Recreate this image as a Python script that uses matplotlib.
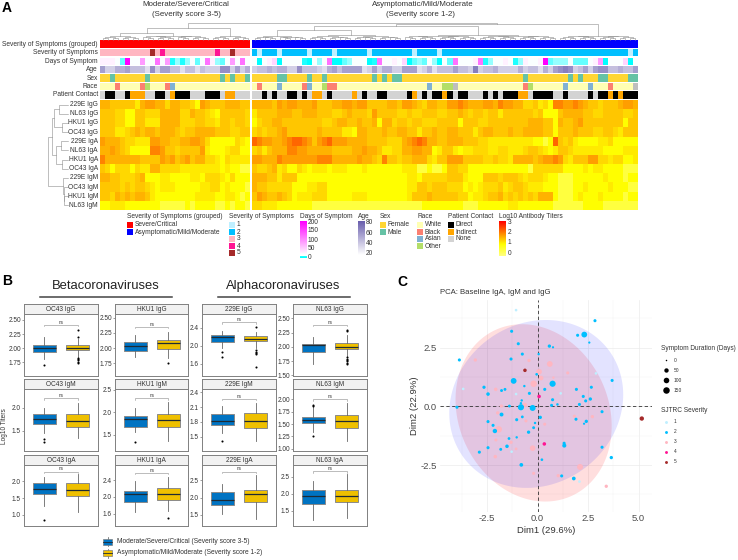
import math
import numpy as np
import matplotlib
matplotlib.use('Agg')
import matplotlib.pyplot as plt
from matplotlib.colors import LinearSegmentedColormap, Normalize
from matplotlib.patches import Rectangle, Polygon

plt.rcParams['font.family'] = ['Liberation Sans', 'DejaVu Sans']
W, H = 738, 560
TXT = '#333333'

# ---------- heatmap data: titer level per patient (codes into heat_levels) ----------
heat_levels = [1.75, 2.0, 2.08, 2.15, 2.22, 2.3, 2.38, 2.48, 2.6, 2.72]
heat_229E_IgG = "55444 44256 65535 54431 65444 55544" "55554 65665 55644 45566 56644 44554 66543 5544" "66765 55665 76655 33423 17766 76544 34445 665"
heat_NL63_IgG = "44433 11443 33555 53354 43214 44443" "24444 55544 55544 43345 44436 44443 34334 4433" "44543 44344 24444 44341 11455 55443 34444 334"
heat_HKU1_IgG = "44433 11442 22555 53334 43324 43443" "13445 54444 44443 34554 45445 15534 43443 3344" "44144 43344 44444 45554 41544 56444 44444 144"
heat_OC43_IgG = "44422 34545 54555 43445 55544 43344" "34344 56444 44454 44422 15544 45445 54424 4544" "55444 24554 44544 55554 41444 54443 34432 444"
heat_229E_IgA = "65554 33222 66554 45566 53111 11321" "87665 56788 76467 86665 55544 44333 56787 5544" "55544 43322 22222 22110 18434 21111 22311 111"
heat_NL63_IgA = "55654 31111 77644 34444 62111 23311" "34245 55776 65555 54444 55655 42233 55665 5124" "42122 33322 33222 34432 12443 22222 21111 222"
heat_HKU1_IgA = "75555 55544 44656 45645 53321 32222" "66555 76666 66677 75555 56554 37443 44555 3244" "66644 44334 33255 55456 67632 44466 33233 112"
heat_OC43_IgA = "43133 31322 55333 32222 22221 21100" "43345 23113 21222 12221 11211 11111 22200 1001" "44331 11111 11111 10333 33311 11212 21111 000"
heat_229E_IgM = "55443 33451 11221 11122 13332 13111" "55544 24441 11111 11111 11111 11111 12213 3333" "44421 11444 34443 23332 11000 11111 12111 011"
heat_OC43_IgM = "44443 43443 21222 11111 22331 21110" "54433 33311 12233 11111 11111 11111 12244 3444" "33312 12333 42344 32221 11000 11211 11211 100"
heat_HKU1_IgM = "44354 54554 21111 11112 22211 22101" "46544 54312 22333 11111 22211 11111 12444 5444" "44331 22344 53434 34355 51000 12111 21111 011"
heat_NL63_IgM = "11222 11111 11000 00101 11100 10110" "33222 11111 11000 00000 00000 00000 00001 1111" "11100 01111 11221 11111 10000 00111 10000 000"
heat_rows = [heat_229E_IgG, heat_NL63_IgG, heat_HKU1_IgG, heat_OC43_IgG,
             heat_229E_IgA, heat_NL63_IgA, heat_HKU1_IgA, heat_OC43_IgA,
             heat_229E_IgM, heat_OC43_IgM, heat_HKU1_IgM, heat_NL63_IgM]
heat_labels = ['229E IgG', 'NL63 IgG', 'HKU1 IgG', 'OC43 IgG', '229E IgA', 'NL63 IgA',
               'HKU1 IgA', 'OC43 IgA', '229E IgM', 'OC43 IgM', 'HKU1 IgM', 'NL63 IgM']

anno_group = "1" * 30 + "2" * 77
anno_sev = "33333 33333 53433 33333 33343 35333" "21222 12222 21222 21222 22212 22222 22122 2212" "22222 22222 22222 22222 22222 22222 22222 212"
day_levels = [0, 3, 8, 12, 20, 30, 50, 90, 120, 200]
anno_days = "55542 94474 48471 31342 48532 47484" "40456 04444 10434 80023 44401 84454 60232 4304" "28444 58134 45413 54459 23334 22245 70444 604"
age_levels = [20, 26, 32, 38, 44, 50, 56, 62, 68, 74]
anno_age = "63355 64442 73664 42442 43337 73635" "34454 55337 44432 56466 66236 35533 66623 5244" "46443 83445 33335 34425 36787 34636 77445 446"
anno_sex = "FFMFF FFFFM FFFFF FFFFF FFFFM FMFFM" "FFFFF MMFFF FMFFM FFFFF FFFFM FMFMM FFFFF FFFF" "FFFFF FFFFF FFFFF MFFFF FFFFM FMFFF MMFFF FMM"
anno_race = "WWWBW WWWBO WWWBA WWWWW WWWWW WWWWW" "WBWWW AWWWW BAWWO BBWWW WWWWW WWWWW WWWWW AWWO" "OGWWW WWWWW WWWWW BOWWW WWWAW WWWAW WWBWW WWG"
anno_contact = "NDDNN DIIIN NDDNI DDDNN NDDDN IINNN" "NNDND NNDDN DNIIN DNNNN INDNN DDNNN NDIND NDDI" "DNDDN NNDND NDDDI INDDD DNNDN NNNDN DDIDI DDD"

# ---------- dendrogram structure: (merge height in px, child, child); an int is a cluster of that many patients ----------
col_tree = (17, (12, (6.5, 8, 14), 8), (16, (14, (10, 11, 19), 31), 16))
row_tree = (20, (16, (14, (9, 1, 1), (6, 1, 1)), (12, (7, 1, 1), (6, 1, 1))),
            (5, 1, (4.5, 1, (4, 1, 1))))

# ---------- panel B: (whisker low, q1, median, q3, whisker high, outliers) for the two groups ----------
box_OC43_IgG = [(1.81, 1.94, 2.01, 2.06, 2.195, [1.71]), (1.85, 1.965, 2.01, 2.05, 2.17, [2.325, 2.2, 1.83, 1.81, 1.79, 1.76, 1.74])]
box_HKU1_IgG = [(1.85, 1.96, 2.04, 2.10, 2.21, []), (1.84, 1.99, 2.077, 2.13, 2.27, [1.76])]
box_OC43_IgM = [(1.45, 1.643, 1.757, 1.857, 2.0, [1.33, 1.27]), (1.34, 1.58, 1.72, 1.857, 2.11, [])]
box_HKU1_IgM = [(1.55, 1.68, 1.85, 1.918, 2.1, [1.336]), (1.36, 1.67, 1.82, 1.955, 2.24, [])]
box_OC43_IgA = [(1.28, 1.614, 1.77, 1.94, 2.12, [0.86]), (1.1, 1.574, 1.75, 1.94, 2.22, [])]
box_HKU1_IgA = [(1.648, 1.88, 2.064, 2.152, 2.39, []), (1.672, 1.928, 2.072, 2.216, 2.49, [1.496])]
box_229E_IgG = [(1.94, 2.09, 2.185, 2.23, 2.32, [1.867, 1.756]), (1.94, 2.096, 2.14, 2.22, 2.31, [2.42, 1.90, 1.867, 1.83, 1.81, 1.533])]
box_229E_IgM = [(1.567, 1.746, 1.827, 1.97, 2.12, [1.41]), (1.42, 1.685, 1.827, 1.99, 2.18, [])]
box_229E_IgA = [(1.52, 1.79, 1.94, 2.17, 2.39, []), (1.37, 1.865, 2.096, 2.23, 2.65, [])]
box_NL63_IgG = [(1.70, 1.912, 2.03, 2.047, 2.164, []), (1.84, 1.97, 2.006, 2.064, 2.2, [2.3, 2.275, 1.82, 1.795, 1.77, 1.75, 1.725, 1.695])]
box_NL63_IgM = [(1.33, 1.514, 1.58, 1.64, 1.84, [1.895, 1.865, 1.26]), (1.15, 1.42, 1.56, 1.69, 1.92, [])]
box_NL63_IgA = [(1.235, 1.716, 1.94, 2.118, 2.39, []), (1.304, 1.755, 1.95, 2.127, 2.58, [])]

facet_titles = ['OC43 IgG', 'HKU1 IgG', '229E IgG', 'NL63 IgG', 'OC43 IgM', 'HKU1 IgM', '229E IgM', 'NL63 IgM',
                'OC43 IgA', 'HKU1 IgA', '229E IgA', 'NL63 IgA']
facet_boxes = [box_OC43_IgG, box_HKU1_IgG, box_229E_IgG, box_NL63_IgG, box_OC43_IgM, box_HKU1_IgM, box_229E_IgM, box_NL63_IgM,
               box_OC43_IgA, box_HKU1_IgA, box_229E_IgA, box_NL63_IgA]
facet_ylim = [(1.514, 2.606), (1.547, 2.56), (1.333, 2.704), (1.494, 2.576),
              (1.07, 2.4), (1.134, 2.52), (1.209, 2.468), (0.953, 2.21),
              (0.663, 2.485), (1.296, 2.768), (1.173, 2.94), (1.049, 2.853)]
facet_ticks = [['1.75', '2.00', '2.25', '2.50'], ['1.75', '2.00', '2.25', '2.50'], ['1.6', '2.0', '2.4'], ['1.50', '1.75', '2.00', '2.25', '2.50'],
               ['1.5', '2.0'], ['1.5', '2.0', '2.5'], ['1.5', '1.8', '2.1', '2.4'], ['1.00', '1.25', '1.50', '1.75', '2.00'],
               ['1.0', '1.5', '2.0'], ['1.6', '2.0', '2.4'], ['1.5', '2.0', '2.5'], ['1.5', '2.0', '2.5']]
facet_ns = [2.41, 2.345, 2.52, 2.386, 2.2, 2.31, 2.265, 2.0, 2.29, 2.57, 2.75, 2.667]

# ---------- panel C: PCA scores ----------
sev2_x = [2.84, 1.98, 2.31, 2.56, -1.29, -.96, .58, .76, -.76, .05, -1.32, -3.88, -.05, -1.19, .74, 3.69, -.66, -2.66, -1.62, -1.79, .35, -2.46, 1.92, 2.66, -.41, 2.26, 2.61, 2.38, .74, -.79, -.83, 2.07, .69, .98, -.83, -1.40, -.25, -4.0, 3.19, -1.79, -.76, .13, 1.90, -1.04, -2.46, 2.41, 2.3, -.13, -2.21, -.2, -.45, -2.12, -1.04, -1.42, -1.52, 1.31, 1.32, -2.46, -1.83, 3.19, -2.89, 3.65, .21, -.81, 1.19, 1.79]
sev2_y = [3.64, 3.02, 3.05, 2.71, 3.19, 2.66, 2.56, 2.51, 2.22, 2.22, 2.01, 1.97, 1.36, 1.08, .96, 1.10, .86, .81, .72, .67, .72, .52, .72, .81, .55, .42, .31, .23, .28, .25, .13, .08, .04, .08, -.04, .01, -.07, -.04, -.23, -.35, -.45, -.47, -.55, -.57, -.65, -.64, -.74, -.71, -.81, -.91, -1.10, -1.05, -1.32, -1.37, -1.70, -1.57, -1.67, -1.76, -1.83, -1.74, -1.95, -2.18, -2.27, -2.49, -2.96, -3.07]
sev2_d = [15, 15, 110, 3, 15, 15, 20, 3, 15, 5, 15, 15, 8, 110, 130, 15, 5, 18, 12, 12, 15, 25, 15, 15, 15, 15, 20, 15, 15, 5, 5, 15, 15, 6, 130, 12, 120, 15, 15, 35, 10, 20, 15, 15, 15, 20, 3, 5, 15, 12, 20, 50, 5, 10, 25, 15, 40, 15, 12, 15, 15, 20, 8, 30, 15, 30]
sev1_x = [-1.07, -3.69, -1.07, 1.14, 2.89, 2.07, -1.29]
sev1_y = [4.09, .74, .52, .55, 1.40, -3.2, -1.93]
sev1_d = [8, 8, 8, 8, 8, 8, 8]
sev3_x = [-3.09, -.43, .60, .07, .17, 1.49, .78, -.2, -2.08, -.63, -1.80, -1.98, 1.82, 2.71, -.58, .35, -1.93, -2.07, -1.32, -1.07, -.25, -2.1, 2.1, -.2, 1.02, 3.40]
sev3_y = [1.97, 1.95, 1.80, 1.47, 1.20, 1.42, 1.22, .96, .72, .06, .01, -.28, -.42, -.44, -.62, -.76, -.98, -1.43, -1.53, -1.81, -1.78, -2.14, -2.58, -2.85, -2.95, -3.40]
sev3_d = [20, 20, 110, 100, 60, 15, 5, 150, 25, 50, 20, 20, 15, 20, 15, 15, 150, 15, 20, 10, 100, 25, 120, 15, 20, 20]
sev4_x = [.07, .33]
sev4_y = [.42, -1.60]
sev4_d = [25, 25]
sev5_x = [-.63, 5.16]
sev5_y = [1.53, -.52]
sev5_d = [25, 50]
ell_blue = (-.07, .10, 4.31, 3.57, .11)
ell_red = (-.20, -.28, 3.87, 3.77, -.15)

sev_colors = {'1': '#BFEFFF', '2': '#00BFFF', '3': '#FFB6C1', '4': '#FF1493', '5': '#A52A2A'}
sex_colors = {'F': '#FFD633', 'M': '#66C2A5'}
race_colors = {'W': '#FFFFB3', 'B': '#FB8072', 'A': '#80B1D3', 'O': '#B3DE69', 'G': '#BEBEBE'}
contact_colors = {'D': '#000000', 'I': '#FFA500', 'N': '#D3D3D3'}

fig = plt.figure(figsize=(W / 100, H / 100), dpi=100, facecolor='white')


def px_ax(x0, y0, x1, y1, **kw):
    return fig.add_axes([x0 / W, 1 - y1 / H, (x1 - x0) / W, (y1 - y0) / H], **kw)


ov = px_ax(0, 0, W, H, zorder=10)
ov.set_xlim(0, W)
ov.set_ylim(H, 0)
ov.axis('off')
ov.patch.set_alpha(0)


def T(x, y, s, size=4.7, ha='left', va='center', **kw):
    kw.setdefault('color', TXT)
    ov.text(x, y, s, fontsize=size, ha=ha, va=va, **kw)


def clean(s):
    return s.replace(' ', '')


# ---------- panel A ----------
heat_cmap = LinearSegmentedColormap.from_list('heat', [(0, '#FFFFFF'), (.5, '#FFFF00'), (1, '#FF0000')])
heat = np.array([[heat_levels[int(c)] for c in clean(r)] for r in heat_rows])
assert heat.shape == (12, 107), heat.shape
BL = (100, 250, 0, 30)
BR = (252, 638, 30, 107)
HM_T, HM_B = 100, 210
for x0, x1, i0, i1 in (BL, BR):
    a = px_ax(x0, HM_T, x1, HM_B)
    a.imshow(heat[:, i0:i1], cmap=heat_cmap, norm=Normalize(1, 3), aspect='auto', interpolation='nearest')
    a.axis('off')

anno_y = [(40, 48), (49, 56.5), (57.5, 65.3), (65.8, 73.5), (74, 82), (82.5, 90.5), (91, 99)]
anno_names = ['Severity of Symptoms (grouped)', 'Severity of Symptoms', 'Days of Symptom', 'Age', 'Sex', 'Race', 'Patient Contact']
day_cmap = LinearSegmentedColormap.from_list('days', [(0, '#00FFFF'), (.1, '#FFFFFF'), (1, '#FF00FF')])
age_cmap = LinearSegmentedColormap.from_list('age', ['#FFFFFF', '#6A5FAE'])
group_colors = {'1': '#FF0000', '2': '#0000FF'}
anno_tracks = [
    (anno_group, lambda c: group_colors[c]),
    (anno_sev, lambda c: sev_colors[c]),
    (anno_days, lambda c: day_cmap(day_levels[int(c)] / 200)),
    (anno_age, lambda c: age_cmap((age_levels[int(c)] - 20) / 60)),
    (anno_sex, lambda c: sex_colors[c]),
    (anno_race, lambda c: race_colors[c]),
    (anno_contact, lambda c: contact_colors[c]),
]
for (yt, yb), name, (codes, col) in zip(anno_y, anno_names, anno_tracks):
    codes = clean(codes)
    assert len(codes) == 107, (name, len(codes))
    colors = np.array([matplotlib.colors.to_rgb(col(c)) for c in codes])[None, :, :]
    for x0, x1, i0, i1 in (BL, BR):
        a = px_ax(x0, yt, x1, yb)
        a.imshow(colors[:, i0:i1], aspect='auto', interpolation='nearest')
        a.axis('off')
    T(98, (yt + yb) / 2, name, size=4.75, ha='right')

row_h = (HM_B - HM_T) / 12
for i, lab in enumerate(heat_labels):
    T(98, HM_T + row_h * (i + .5), lab, size=4.75, ha='right')


def draw_tree(node, leaf_pos, to_xy, counter):
    if isinstance(node, int):
        if node == 1:
            p = leaf_pos(counter[0])
            counter[0] += 1
            return p, 0.0
        a, b = node // 2, node - node // 2
        node = (0.8 * math.log2(node) + 0.8, a, b)
    h, a, b = node
    pa, ha = draw_tree(a, leaf_pos, to_xy, counter)
    pb, hb = draw_tree(b, leaf_pos, to_xy, counter)
    xs, ys = zip(*[to_xy(pa, ha), to_xy(pa, h), to_xy(pb, h), to_xy(pb, hb)])
    ov.plot(xs, ys, color='#8C8C8C', lw=0.4, solid_joinstyle='miter')
    return (pa + pb) / 2, h


draw_tree(col_tree, lambda i: 100 + 5 * (i + .5) if i < 30 else 252 + 386 / 77 * (i - 30 + .5),
          lambda p, h: (p, 39.5 - h), [0])
draw_tree(row_tree, lambda i: HM_T + row_h * (i + .5), lambda p, h: (68 - h, p), [0])

T(186, 4.5, 'Moderate/Severe/Critical', size=5.7, ha='center')
T(187, 15, '(Severity score 3-5)', size=5.7, ha='center')
T(423, 4.5, 'Asymptomatic/Mild/Moderate', size=5.7, ha='center')
T(421, 15, '(Severity score 1-2)', size=5.7, ha='center')
T(2, 8, 'A', size=10, fontweight='bold', color='black')
T(2, 281, 'B', size=10, fontweight='bold', color='black')
T(397, 282, 'C', size=10, fontweight='bold', color='black')


def legend_block(x, title, colors, labels, rw=6.3):
    T(x, 216, title, size=4.75)
    y = 221.7
    for c, l in zip(colors, labels):
        ov.add_patch(Rectangle((x, y), rw, 6.7, fc=c, ec='none'))
        T(x + rw + 1.4, y + 3.3, l, size=4.75)
        y += 7


legend_block(127, 'Severity of Symptoms (grouped)', ['#FF0000', '#0000FF'], ['Severe/Critical', 'Asymptomatic/Mild/Moderate'])
legend_block(228.7, 'Severity of Symptoms', [sev_colors[k] for k in '12345'], list('12345'))
legend_block(380, 'Sex', [sex_colors['F'], sex_colors['M']], ['Female', 'Male'])
legend_block(417, 'Race', [race_colors[k] for k in 'WBAO'], ['White', 'Black', 'Asian', 'Other'])
legend_block(448, 'Patient Contact', ['#000000', '#FFA500', '#D3D3D3'], ['Direct', 'Indirect', 'None'])


def colorbar(x0, y0, x1, y1, cmap, lo=0.0, hi=1.0):
    a = px_ax(x0, y0, x1, y1, zorder=11)
    a.imshow(np.linspace(hi, lo, 64)[:, None], cmap=cmap, vmin=0, vmax=1, aspect='auto')
    a.axis('off')


T(300, 216, 'Days of Symptom', size=4.75)
colorbar(300, 221, 306.3, 255, day_cmap, .1, 1)
colorbar(300, 255.5, 306.3, 258.5, day_cmap, 0, .03)
for lab, y in zip(['200', '150', '100', '50', '0'], [222, 231, 240, 249, 257.5]):
    T(308, y, lab, size=4.75)
T(358, 216, 'Age', size=4.75)
colorbar(358, 221, 364.5, 255, age_cmap)
for lab, y in zip(['80', '60', '40', '20'], [222.7, 233.3, 243.3, 253.3]):
    T(366, y, lab, size=4.75)
T(499.3, 216, 'Log10 Antibody Titers', size=4.75)
colorbar(499.3, 221, 506, 256, heat_cmap, .25, 1)
for lab, y in zip(['3', '2', '1', '0'], [222.7, 233, 243, 253.7]):
    T(507.5, y, lab, size=4.75)

# ---------- panel B ----------
col_x = [(24.3, 97.7), (115.3, 188.3), (202.3, 275.7), (293.3, 366.7)]
row_y = [(303.7, 314, 375.7), (379.3, 389, 451), (455, 465, 526.3)]
BLUE, YEL = '#0073C2', '#EFC000'
for k, title in enumerate(facet_titles):
    r, c = k // 4, k % 4
    x0, x1 = col_x[c]
    st, pt, pb = row_y[r]
    s = px_ax(x0, st, x1, pt)
    s.set_xticks([]); s.set_yticks([])
    s.set_facecolor('#F2F2F2')
    for sp in s.spines.values():
        sp.set_color('#808080'); sp.set_linewidth(.7)
    s.text(.5, .47, title, transform=s.transAxes, ha='center', va='center', fontsize=4.7, color=TXT)
    a = px_ax(x0, pt, x1, pb)
    stats = [dict(whislo=w[0], q1=w[1], med=w[2], q3=w[3], whishi=w[4], fliers=w[5]) for w in facet_boxes[k]]
    bp = a.bxp(stats, positions=[1, 2], widths=.7, patch_artist=True, showcaps=False,
               boxprops=dict(edgecolor='#8A8A8A', linewidth=.7),
               medianprops=dict(color='#1F2A33', linewidth=.9),
               whiskerprops=dict(color='#666666', linewidth=.6),
               flierprops=dict(marker='o', ms=1.5, mfc='black', mec='black', mew=0))
    for b, col in zip(bp['boxes'], (BLUE, YEL)):
        b.set_facecolor(col)
    a.set_xlim(.4, 2.6)
    a.set_ylim(*facet_ylim[k])
    a.set_xticks([])
    a.set_yticks([float(t) for t in facet_ticks[k]])
    a.set_yticklabels(facet_ticks[k], fontsize=4.7, color=TXT)
    a.tick_params(axis='y', length=1.5, width=.4, pad=1, color='#555555')
    for sp in a.spines.values():
        sp.set_color('#808080'); sp.set_linewidth(.7)
    y, dy = facet_ns[k], .02 * (facet_ylim[k][1] - facet_ylim[k][0])
    a.plot([1, 1, 2, 2], [y - dy, y, y, y - dy], color='#8A8A8A', lw=.4)
    a.text(1.5, y + .2 * dy, 'ns', ha='center', va='bottom', fontsize=3.3, color=TXT)

T(106, 286, 'Betacoronaviruses', size=9.4, ha='center', color='#222222')
T(283, 286, 'Alphacoronaviruses', size=9.4, ha='center', color='#222222')
ov.plot([40, 172], [296.7, 296.7], color='#444444', lw=1.1)
ov.plot([217.7, 349.7], [296.7, 296.7], color='#444444', lw=1.1)
T(5, 426, 'Log10 Titers', size=4.7, ha='center', rotation=90)
for y, col, lab in [(541.8, BLUE, 'Moderate/Severe/Critical (Severity score 3-5)'),
                    (553, YEL, 'Asymptomatic/Mild/Moderate (Severity score 1-2)')]:
    ov.plot([107.5, 107.5], [y - 4.5, y + 4.5], color='#555555', lw=.5)
    ov.add_patch(Rectangle((103.3, y - 3), 8.4, 6, fc=col, ec='#808080', lw=.5, zorder=3))
    ov.plot([103.3, 111.7], [y, y], color='#1F2A33', lw=.6, zorder=4)
    T(117, y, lab, size=4.75)

# ---------- panel C ----------
cx0, cx1, cy0, cy1 = 390 + 150 / 3, 390 + 785 / 3, 270 + 90 / 3, 270 + 725 / 3
p = px_ax(cx0, cy0, cx1, cy1)
p.set_xlim(-4.84, 5.65)
p.set_ylim(-4.48, 4.52)
for sp in p.spines.values():
    sp.set_visible(False)
p.set_xticks([-2.5, 0, 2.5, 5])
p.set_xticklabels(['-2.5', '0.0', '2.5', '5.0'], fontsize=6.8, color='#4D4D4D')
p.set_yticks([-2.5, 0, 2.5])
p.set_yticklabels(['-2.5', '0.0', '2.5'], fontsize=6.8, color='#4D4D4D')
p.set_xticks([-3.75, -1.25, 1.25, 3.75], minor=True)
p.set_yticks([-3.75, -1.25, 1.25, 3.75], minor=True)
p.tick_params(which='both', length=0, pad=2)
p.grid(which='major', color='#EBEBEB', lw=.5)
p.grid(which='minor', color='#F2F2F2', lw=.3)
p.set_axisbelow(True)
p.set_xlabel('Dim1 (29.6%)', fontsize=6.8, color=TXT, labelpad=1.5)
p.set_ylabel('Dim2 (22.9%)', fontsize=6.8, color=TXT, labelpad=1.5)
T(439.5, 293, 'PCA: Baseline IgA, IgM and IgG', size=5.6)
t = np.linspace(0, 2 * np.pi, 200)
for (cx, cy, a_, b_, phi), col, al in [(ell_red, '#FF0000', .13), (ell_blue, '#0000FF', .11)]:
    p.add_patch(Polygon(np.c_[cx + a_ * np.cos(t), cy + b_ * np.sin(t + phi)], fc=col, ec='none', alpha=al, zorder=1))
p.axhline(0, color='#333333', lw=.6, ls=(0, (4, 3)), zorder=1.5)
p.axvline(0, color='#333333', lw=.6, ls=(0, (4, 3)), zorder=1.5)


def dot_s(days):
    return ((1.5 + 5.0 * math.sqrt(days / 150)) * .72) ** 2


for key, xs, ys, ds in [('1', sev1_x, sev1_y, sev1_d), ('3', sev3_x, sev3_y, sev3_d), ('2', sev2_x, sev2_y, sev2_d),
                        ('4', sev4_x, sev4_y, sev4_d), ('5', sev5_x, sev5_y, sev5_d)]:
    p.scatter(xs, ys, s=[dot_s(d) for d in ds], c=sev_colors[key], linewidths=0, zorder=3)

T(661, 349, 'Symptom Duration (Days)', size=4.7)
for lab, y, d in zip(['0', '50', '100', '150'], [360, 370, 380, 390], [0, 50, 100, 150]):
    ov.scatter([666], [y], s=dot_s(d), c='black', linewidths=0)
    T(674, y, lab, size=3.5)
T(661, 410.7, 'SJTRC Severity', size=4.7)
for k, y in zip('12345', [421.7, 431.7, 441.7, 451.7, 461.7]):
    ov.scatter([666], [y], s=dot_s(12), c=sev_colors[k], linewidths=0)
    T(674, y, k, size=3.5)

fig.savefig('out.png', dpi=100, facecolor='white')
